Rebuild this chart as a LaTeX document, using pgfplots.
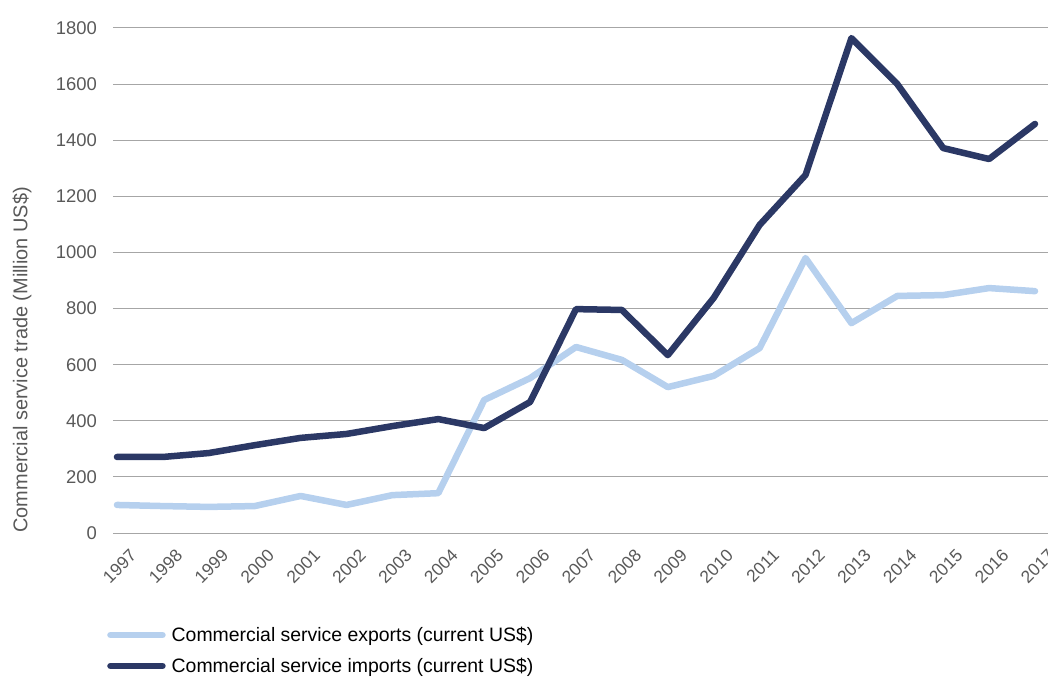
\documentclass[border=0pt]{standalone}
\usepackage{pgfplots}
\pgfplotsset{compat=1.18}
\usepackage{fontspec}
\setmainfont{Liberation Sans}
\definecolor{expcol}{HTML}{B6D0EE}
\definecolor{impcol}{HTML}{2B3865}
\definecolor{txtgray}{HTML}{595959}
\definecolor{gridgray}{HTML}{A6A6A6}
\begin{document}
\begin{tikzpicture}
\path[use as bounding box] (-113bp,-144bp) rectangle (935bp,533bp);
\begin{axis}[
	scale only axis,
	width=935bp,
	height=505bp,
	xmin=1996.913, xmax=2017.283,
	ymin=0, ymax=1800,
	axis x line*=bottom, axis y line*=left,
	axis line style={draw=none},
	xtick={1997,...,2017},
	ytick={0,200,...,1800},
	ymajorgrids,
	grid style={gridgray, line width=1bp},
	major tick length=0,
	/pgf/number format/assume math mode=true,
	xticklabel={\pgfmathprintnumber[1000 sep={}]{\tick}},
	yticklabel={\pgfmathprintnumber[1000 sep={}]{\tick}},
	ticklabel style={font=\fontsize{18.5}{21}\selectfont, text=txtgray},
	xticklabel style={font=\fontsize{17.5}{20}\selectfont, inner sep=0, xshift=12bp, yshift=-15bp, rotate=45, anchor=north east},
	yticklabel style={inner sep=0, xshift=-16bp},
	ylabel={Commercial service trade (Million US\$)},
	ylabel style={at={(axis description cs:-0.0973,0.343)}, anchor=center, rotate=0,
		font=\fontsize{20}{23}\selectfont, text=txtgray},
	legend style={at={(axis description cs:-0.0064,-0.182)}, anchor=north west,
		draw=none, fill=none, inner sep=0, row sep=11bp,
		font=\fontsize{19.5}{22}\selectfont, text=black},
	legend cell align=left,
	legend image code/.code={\draw[#1] (0bp,0bp) -- (52bp,0bp); \path (56bp,0bp);},
	clip=false,
]
\addplot[expcol, line width=6.5bp, line join=round, line cap=round] coordinates {
(1997,100) (1998,96) (1999,93) (2000,96) (2001,132) (2002,100) (2003,135)
(2004,142) (2005,474) (2006,552) (2007,663) (2008,617) (2009,520) (2010,560)
(2011,659) (2012,980) (2013,748) (2014,845) (2015,848) (2016,873) (2017,862)};
\addplot[impcol, line width=6.5bp, line join=round, line cap=round] coordinates {
(1997,271) (1998,271) (1999,285) (2000,313) (2001,339) (2002,353) (2003,381)
(2004,406) (2005,374) (2006,467) (2007,798) (2008,795) (2009,634) (2010,838)
(2011,1098) (2012,1276) (2013,1764) (2014,1600) (2015,1372) (2016,1333) (2017,1458)};
\legend{Commercial service exports (current US\$), Commercial service imports (current US\$)}
\end{axis}
\end{tikzpicture}
\end{document}
